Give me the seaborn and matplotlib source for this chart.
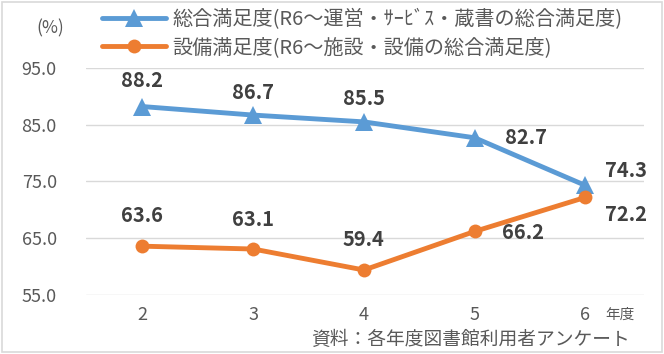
import pandas as pd
import matplotlib.pyplot as plt
import seaborn as sns

# Data
years = [2, 3, 4, 5, 6]
total_sat = [88.2, 86.7, 85.5, 82.7, 74.3]
facility_sat = [63.6, 63.1, 59.4, 66.2, 72.2]
label_total = "総合満足度(R6〜運営・ｻｰﾋﾞｽ・蔵書の総合満足度)"
label_facility = "設備満足度(R6〜施設・設備の総合満足度)"
y_ticks = [55.0, 65.0, 75.0, 85.0, 95.0]

df = pd.DataFrame({"year": years, "total": total_sat, "facility": facility_sat})

sns.set_style("white")
plt.rcParams['font.family'] = ['Noto Sans CJK JP', 'DejaVu Sans']

blue = "#5B9BD5"
orange = "#ED7D31"
text_col = "#595959"
lab_col = "#404040"

fig = plt.figure(figsize=(6.64, 3.54), dpi=100)
ax = fig.add_axes([0.1295, 0.1667, 0.8405, 0.6413])

sns.lineplot(data=df, x="year", y="total", ax=ax, color=blue, linewidth=3.5,
             marker="^", markersize=13, markeredgewidth=0, label=label_total)
sns.lineplot(data=df, x="year", y="facility", ax=ax, color=orange, linewidth=3.5,
             marker="o", markersize=10, markeredgewidth=0, label=label_facility)

ax.set_xlim(1.49, 6.53)
ax.set_ylim(55, 95)
ax.set_yticks(y_ticks)
ax.set_yticklabels([f"{v:.1f}" for v in y_ticks])
ax.set_xticks(years)
ax.grid(axis="y", color="#d9d9d9", linewidth=1)
for s in ax.spines.values():
    s.set_visible(False)
ax.tick_params(axis="both", length=0, labelsize=13, colors=text_col, pad=8)
ax.tick_params(axis="y", pad=21)
ax.set_xlabel("")
ax.set_ylabel("")

# data labels (offsets in points, label centre relative to the point)
total_off = [(0, 19), (0, 16.5), (0, 17), (37, 0), (29, 11)]
fac_off = [(0, 22), (0, 21.5), (0, 22), (35, -1), (29, -12)]
for vals, offs in [(total_sat, total_off), (facility_sat, fac_off)]:
    for x, y, o in zip(years, vals, offs):
        ax.annotate(f"{y:.1f}", (x, y), xytext=o, textcoords="offset points",
                    ha="center", va="center",
                    fontsize=14.5, fontweight="bold", color=lab_col)

leg = ax.legend(loc="upper left", bbox_to_anchor=(0.135, 1.01), bbox_transform=fig.transFigure,
                frameon=False, fontsize=14.5, handlelength=3.2, labelspacing=0.35,
                borderaxespad=0.2, handletextpad=0.3)
for t in leg.get_texts():
    t.set_color(text_col)

fig.text(0.055, 0.905, "(%)", fontsize=12.5, color=text_col)
fig.text(0.912, 0.1, "年度", fontsize=10.5, color=text_col)
fig.text(0.468, 0.025, "資料：各年度図書館利用者アンケート", fontsize=13.5, color=text_col)

fig.patches.append(plt.Rectangle((0.003, 0.005), 0.994, 0.99, transform=fig.transFigure,
                                 fill=False, edgecolor="#d9d9d9", linewidth=1.2))

plt.savefig("out.png", dpi=100)
